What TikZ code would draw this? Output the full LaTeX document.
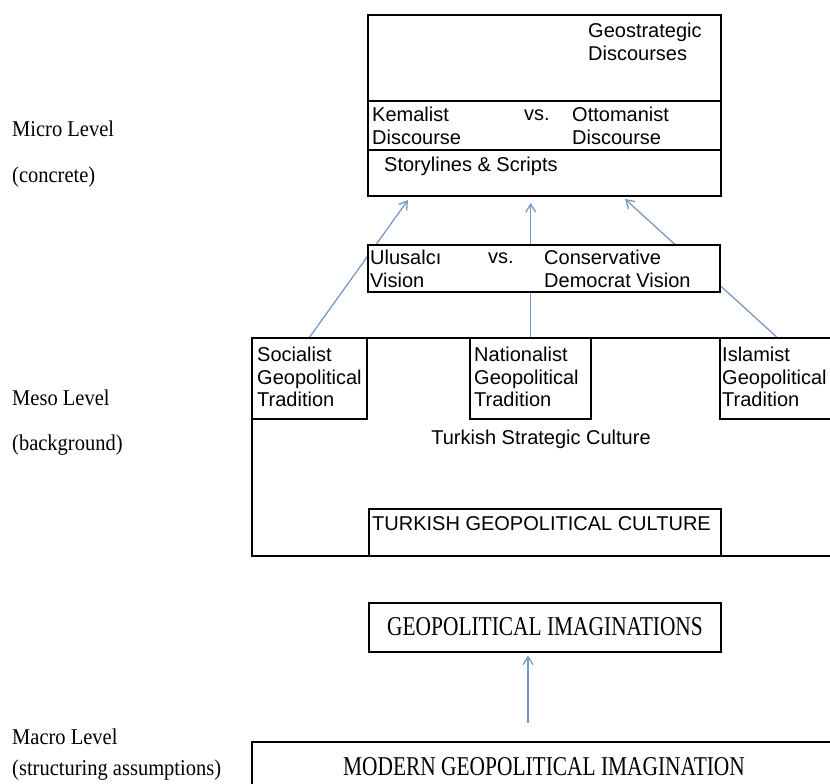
\documentclass[tikz,border=0pt]{standalone}
\usepackage{fontspec}
\setmainfont{Liberation Serif}
\setsansfont{Liberation Sans}
\usepackage{graphicx}
\usetikzlibrary{arrows.meta}
\definecolor{arrowblue}{RGB}{122,152,200}
\tikzset{
	frame node/.style={draw, line width=2.4pt, fill=white, inner sep=0, anchor=north west},
	sans text/.style={font=\sffamily\fontsize{20}{22.5}\selectfont, align=left, inner sep=0, anchor=west},
	serif text/.style={font=\fontsize{21.4}{24}\selectfont, inner sep=0},
	level label/.style={font=\fontsize{20.5}{24}\selectfont, inner sep=0, anchor=west},
	flow/.style={draw=arrowblue, line width=1.3pt, -{Straight Barb[length=8pt, width=10pt]}},
}
\newcommand{\tallcaps}[1]{\scalebox{1}[1.27]{#1}}
\newcommand{\tallword}[1]{\scalebox{1}[1.1]{#1}}

\begin{document}
\begin{tikzpicture}[x=1pt, y=-1pt]
  \useasboundingbox (0,0) rectangle (830,784);
  \clip (0,0) rectangle (830,784);

  % micro level
  \node[frame node, minimum width=353pt, minimum height=86pt] (geo) at (367,14) {};
  \node[frame node, minimum width=353pt, minimum height=49pt] (kem) at (367,100) {};
  \node[frame node, minimum width=353pt, minimum height=46pt] (story) at (367,149) {};
  \node[sans text] (geotext) at (588,42) {Geostrategic\\Discourses};
  \node[sans text] (kemalist) at (372,126) {Kemalist\\Discourse};
  \node[sans text] (kemvs) at (524,115) {vs.};
  \node[sans text] (ottoman) at (572,126) {Ottomanist\\Discourse};
  \node[sans text] (storytext) at (384,166) {Storylines \& Scripts};

  % meso level
  \node[frame node, minimum width=590pt, minimum height=218pt] (culture) at (251,337) {};
  \node[frame node, minimum width=115pt, minimum height=81pt] (soc) at (251,337) {};
  \node[frame node, minimum width=121pt, minimum height=81pt] (nat) at (469,337) {};
  \node[frame node, minimum width=113pt, minimum height=81pt] (isl) at (719,337) {};
  \node[sans text] (soctext) at (257,377) {Socialist\\Geopolitical\\Tradition};
  \node[sans text] (nattext) at (474,377) {Nationalist\\Geopolitical\\Tradition};
  \node[sans text] (isltext) at (722,377) {Islamist\\Geopolitical\\Tradition};
  \node[sans text, anchor=center] (strategic) at (541,439) {Turkish Strategic Culture};
  \node[frame node, minimum width=352pt, minimum height=47pt] (tgc) at (368,508) {};
  \node[sans text] (tgctext) at (372,524) {TURKISH GEOPOLITICAL CULTURE};

  \coordinate (tipsoc) at (408,200);
  \coordinate (tipnat) at (527,203);
  \coordinate (tipisl) at (625,199);
  \draw[flow] (soc.north) -- (tipsoc);
  \draw[flow] (nat.north) -- (nat.north |- tipnat);
  \draw[flow] (isl.north) -- (tipisl);

  \node[frame node, minimum width=352pt, minimum height=47pt] (vision) at (367,244) {};
  \node[sans text] (ulusalci) at (370,269) {Ulusalcı\\Vision};
  \node[sans text] (visvs) at (488,258) {vs.};
  \node[sans text] (conservative) at (544,269) {Conservative\\Democrat Vision};

  % macro level
  \node[frame node, minimum width=352pt, minimum height=49pt] (imag) at (368,602) {};
  \node[serif text] (imagtext) at (545,627) {\tallcaps{GEOPOLITICAL IMAGINATIONS}};
  \node[frame node, minimum width=590pt, minimum height=80pt] (modern) at (251,741) {};
  \node[serif text] (moderntext) at (544,767) {\tallcaps{MODERN GEOPOLITICAL IMAGINATION}};
  \coordinate (base) at (528,723);
  \draw[flow, shorten >=2pt] (base) -- (base |- imag.south);

  % level labels
  \node[level label] (micro) at (12,129) {\tallword{Micro Level}};
  \node[level label] (concrete) at (12,177) {\tallword{(concrete)}};
  \node[level label] (meso) at (12,398) {\tallword{Meso Level}};
  \node[level label] (background) at (12,445) {\tallword{(background)}};
  \node[level label] (macro) at (12,737) {\tallword{Macro Level}};
  \node[level label] (assumptions) at (12,770) {\tallword{(structuring assumptions)}};
\end{tikzpicture}
\end{document}
